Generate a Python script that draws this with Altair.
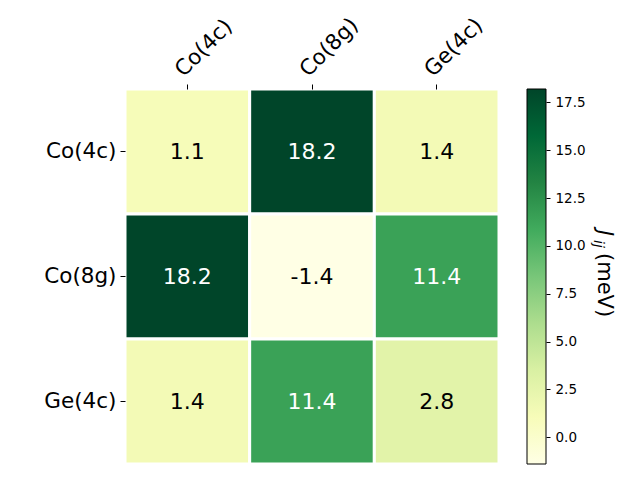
import altair as alt
import pandas as pd

labels = ["Co(4c)", "Co(8g)", "Ge(4c)"]
values = [
    [1.1, 18.2, 1.4],
    [18.2, -1.4, 11.4],
    [1.4, 11.4, 2.8],
]
cbar_ticks = [0.0, 2.5, 5.0, 7.5, 10.0, 12.5, 15.0, 17.5]
vmin, vmax = -1.4, 18.2
# matplotlib YlGn colour stops
ylgn = ["#ffffe5", "#f7fcb9", "#d9f0a3", "#addd8e", "#78c679",
        "#41ab5d", "#238443", "#006837", "#004529"]
stops = [vmin + k * (vmax - vmin) / (len(ylgn) - 1) for k in range(len(ylgn))]

rows = []
for i, r in enumerate(labels):
    for j, c in enumerate(labels):
        rows.append({"row": r, "col": c, "value": values[i][j], "text": f"{values[i][j]:.1f}"})
df = pd.DataFrame(rows)

x = alt.X("col:N", sort=labels, title=None,
          axis=alt.Axis(orient="top", labelAngle=-45, labelAlign="left", labelBaseline="middle",
                        labelFontSize=21.5, tickSize=5, tickColor="black", domain=False,
                        labelPadding=11, labelOffset=-8, labelColor="black"))
y = alt.Y("row:N", sort=labels, title=None,
          axis=alt.Axis(labelFontSize=21.5, tickSize=5, tickColor="black", domain=False,
                        labelPadding=4, minExtent=120, labelColor="black"))

heat = alt.Chart(df).mark_rect(stroke="white", strokeWidth=3).encode(
    x=x, y=y,
    color=alt.Color("value:Q",
                    scale=alt.Scale(domain=stops, range=ylgn, interpolate="rgb"),
                    legend=None),
)

text = alt.Chart(df).mark_text(fontSize=22).encode(
    x=alt.X("col:N", sort=labels),
    y=alt.Y("row:N", sort=labels),
    text="text:N",
    color=alt.condition(alt.datum.value > 10, alt.value("white"), alt.value("black")),
)

heatmap = (heat + text).properties(width=374, height=375)

# colorbar
grad = alt.LinearGradient(
    gradient="linear",
    stops=[alt.GradientStop(color=c, offset=k / (len(ylgn) - 1)) for k, c in enumerate(ylgn)],
    x1=0, x2=0, y1=1, y2=0,
)
cb_df = pd.DataFrame({"lo": [vmin], "hi": [vmax]})
cbar = alt.Chart(cb_df).mark_rect(fill=grad, stroke="black", strokeWidth=1).encode(
    x=alt.value(0), x2=alt.value(19),
    y=alt.Y("lo:Q", scale=alt.Scale(domain=[vmin, vmax], nice=False, zero=False),
            axis=alt.Axis(orient="right", values=cbar_ticks, format=".1f", labelFontSize=13.5,
                          tickSize=4, tickColor="black", domain=False, grid=False,
                          labelPadding=5, labelColor="black", title=None)),
    y2="hi:Q",
)

t_j = alt.Chart(pd.DataFrame({"t": ["J"]})).mark_text(
    angle=90, fontSize=21, fontStyle="italic", color="black", align="left", baseline="alphabetic"
).encode(text="t:N", x=alt.value(71), y=alt.value(141))
t_ij = alt.Chart(pd.DataFrame({"t": ["ij"]})).mark_text(
    angle=90, fontSize=14, fontStyle="italic", color="black", align="left", baseline="alphabetic"
).encode(text="t:N", x=alt.value(67), y=alt.value(151))
t_unit = alt.Chart(pd.DataFrame({"t": ["(meV)"]})).mark_text(
    angle=90, fontSize=21, color="black", align="left", baseline="alphabetic"
).encode(text="t:N", x=alt.value(71), y=alt.value(164))

colorbar = (cbar + t_j + t_ij + t_unit).properties(width=19, height=375)

chart = alt.hconcat(heatmap, colorbar, spacing=28, bounds="flush").properties(
    padding={"top": 14, "left": 5, "right": 5, "bottom": 5}
).configure(
    font="DejaVu Sans"
).configure_view(stroke=None)

chart.save("out.html", embed_options={"renderer": "svg", "actions": False})
